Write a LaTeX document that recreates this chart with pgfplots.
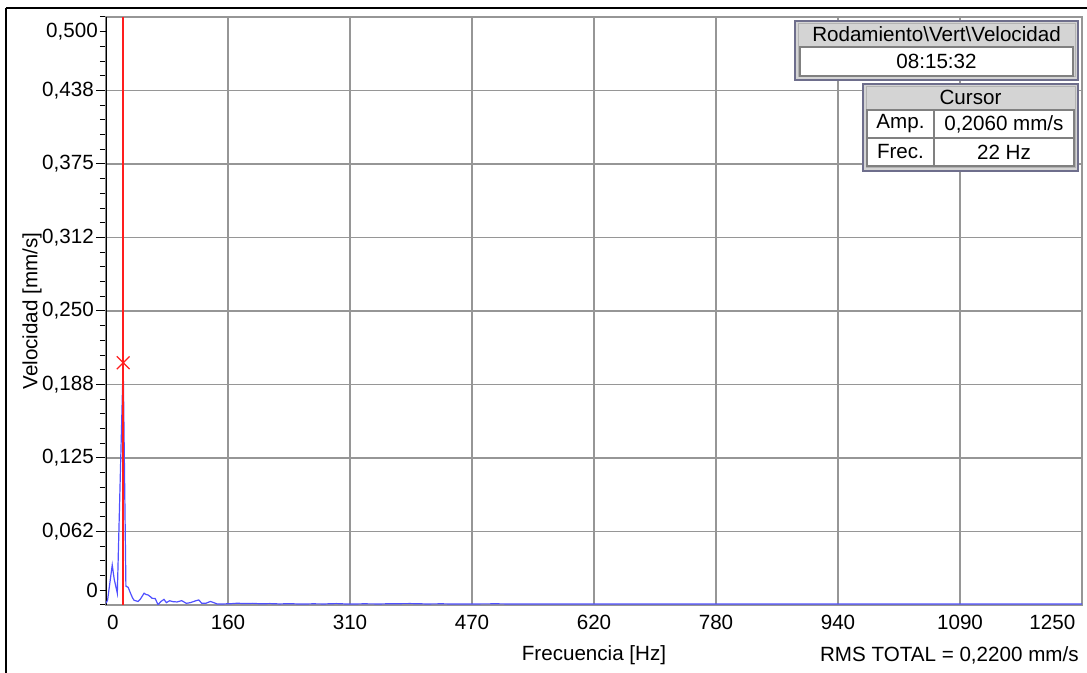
\documentclass[border=0pt]{standalone}
\usepackage{fontspec}
\setmainfont{Liberation Sans}
\usepackage{pgfplots}
\pgfplotsset{compat=1.18}
\definecolor{gridc}{RGB}{150,150,150}
\definecolor{spec}{RGB}{80,80,255}
\definecolor{boxb}{RGB}{110,110,140}
\definecolor{hdr}{RGB}{212,212,212}
\definecolor{curs}{RGB}{255,30,30}
\newcommand\PX[2]{({((#1)-106)*0.5pt},{(605-(#2))*0.5pt})}
\pgfplotstableread{
f v
0 0.0015
2 0.004
5 0.019
8 0.034
10.5 0.022
12.5 0.016
14.5 0.010
22 0.206
25.5 0.016
28.4 0.015
31.4 0.010
34 0.006
36 0.004
41 0.003
44 0.005
48.8 0.010
51 0.009
54 0.0085
57 0.007
59 0.0057
63 0.0055
66.7 0.0002
70 0.0028
74.3 0.0048
77.3 0.002
81.5 0.0036
86 0.0028
91 0.0026
97 0.0037
102.8 0.0014
108 0.002
115.5 0.0037
118.9 0.0043
122.7 0.0014
128 0.0015
133.8 0.0030
138 0.0020
142.3 0.0009
150 0.0009
160 0.0011
168 0.0015
178 0.0012
188 0.0014
198 0.0010
210 0.0012
222 0.0009
235 0.0011
250 0.0008
265 0.0010
280 0.0009
295 0.0012
310 0.0008
330 0.0010
350 0.0009
370 0.0011
390 0.0012
410 0.0009
430 0.0010
450 0.0008
470 0.0009
500 0.0010
530 0.0008
560 0.0009
600 0.0008
640 0.0009
680 0.0008
720 0.0009
760 0.0008
800 0.0009
850 0.0008
900 0.0008
950 0.0009
1000 0.0008
1050 0.0008
1100 0.0008
1150 0.0008
1200 0.0008
1250 0.0008
}\spectrum
\begin{document}
\fontsize{10.3}{12}\selectfont
\begin{tikzpicture}[font=\fontsize{10.3}{12}\selectfont]
\useasboundingbox \PX{0}{0} rectangle \PX{1087}{673};
\begin{axis}[
  at={(0,0)}, anchor=south west,
  scale only axis, width=488pt, height=294pt,
  xmin=0, xmax=1250, ymin=0, ymax=0.5,
  axis line style={gridc, line width=0.6pt},
  xtick={156.25,312.5,468.75,625,781.25,937.5,1093.75},
  xticklabels={160,310,470,620,780,940,1090},
  extra x ticks={8.9,1212},
  extra x tick labels={0,1250},
  extra x tick style={grid=none},
  xtick style={draw=none},
  ytick={0.0625,0.125,0.1875,0.25,0.3125,0.375,0.4375},
  yticklabels={{0,062},{0,125},{0,188},{0,250},{0,312},{0,375},{0,438}},
  extra y ticks={0.0125,0.4875},
  extra y tick labels={0,{0,500}},
  extra y tick style={grid=none, major tick length=3pt},
  minor ytick={0,0.0125,...,0.5},
  ytick pos=left, xtick pos=bottom,
  tick align=outside,
  major tick length=5pt, minor tick length=3pt,
  ytick style={black, line width=0.5pt},
  grid style={gridc, line width=0.6pt},
  xmajorgrids, ymajorgrids,
  xlabel={Frecuencia [Hz]}, ylabel={Velocidad [mm/s]},
  xlabel style={at={(axis description cs:0.5,0)}, anchor=center, yshift=-25pt},
  ylabel style={at={(axis description cs:0,0.5)}, anchor=center, yshift=37pt},
  tick label style={font=\fontsize{10.3}{12}\selectfont},
  yticklabel style={xshift=2.5pt},
  xticklabel style={yshift=3.5pt},
]
\draw[black, line width=0.6pt] (rel axis cs:0,0) -- (rel axis cs:0,1);
\addplot[spec, line width=0.6pt] table[x=f, y=v] {\spectrum};
\draw[curs, line width=0.7pt] (axis cs:22,0) -- (axis cs:22,0.5);
\addplot[only marks, color=curs, mark=x, mark size=4.5pt, mark options={line width=0.6pt, draw=curs}] coordinates {(22,0.206)};
\end{axis}
% info boxes
\filldraw[fill=hdr, draw=boxb, line width=1pt] \PX{795}{21} rectangle \PX{1078}{80};
\draw[gray!60, line width=0.5pt] \PX{798}{24} rectangle \PX{1075}{77};
\node[inner sep=0] at \PX{936.5}{34} {Rodamiento\textbackslash Vert\textbackslash Velocidad};
\filldraw[fill=white, draw=gray, line width=0.6pt] \PX{800}{47} rectangle \PX{1073}{76};
\node[inner sep=0] at \PX{936.5}{61.5} {08:15:32};
\filldraw[fill=hdr, draw=boxb, line width=1pt] \PX{863}{84} rectangle \PX{1078}{171};
\draw[gray!60, line width=0.5pt] \PX{866}{87} rectangle \PX{1075}{168};
\node[inner sep=0] at \PX{970.5}{97} {Cursor};
\filldraw[fill=white, draw=gray, line width=0.6pt] \PX{867}{110} rectangle \PX{1074}{166};
\draw[gray, line width=0.6pt] \PX{867}{138} -- \PX{1074}{138};
\draw[gray, line width=0.6pt] \PX{934}{110} -- \PX{934}{166};
\node[inner sep=0] at \PX{900.5}{124} {Amp.};
\node[inner sep=0] at \PX{1004}{124} {0,2060 mm/s};
\node[inner sep=0] at \PX{900.5}{152} {Frec.};
\node[inner sep=0] at \PX{1004}{152} {22 Hz};
\node[anchor=east, inner sep=0] at \PX{1079}{655} {RMS TOTAL = 0,2200 mm/s};
% outer frame
\draw[black, line width=1pt] \PX{6}{8} -- \PX{1095}{8};
\draw[black, line width=0.8pt] \PX{6}{8} -- \PX{6}{690};
\end{tikzpicture}
\end{document}
